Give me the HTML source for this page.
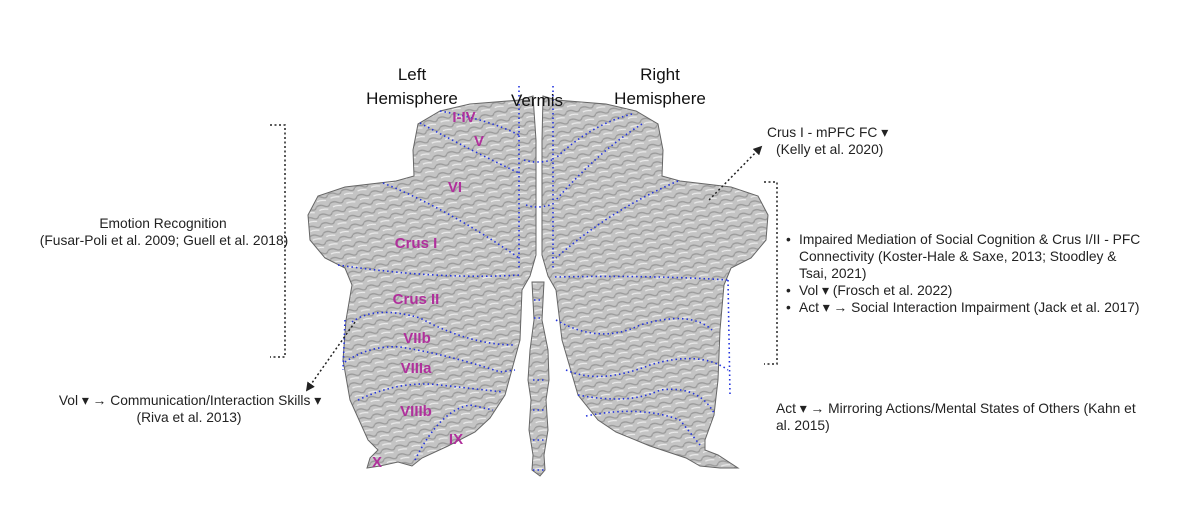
<!DOCTYPE html>
<html><head><meta charset="utf-8"><style>
body{margin:0;background:#fff;width:1199px;height:524px;overflow:hidden;font-family:"Liberation Sans",Arial,sans-serif}
svg{display:block}
.t{font-size:13.8px;fill:#222}
.r{font-size:13.8px;fill:#222}
.h{font-size:17px;fill:#111}
.m{font-size:15px;font-weight:bold;fill:#b0309c}
.b{fill:none;stroke:#2233dd;stroke-width:1.6;stroke-dasharray:1.5 3}
.k{fill:none;stroke:#222;stroke-width:1.5;stroke-dasharray:2 2.5}
</style></head><body>
<svg width="1199" height="524" viewBox="0 0 1199 524">
<defs>
<marker id="ar" viewBox="0 0 10 10" refX="8" refY="5" markerWidth="6" markerHeight="6" orient="auto"><path d="M0,0L10,5L0,10z" fill="#222"/></marker>
<pattern id="pt" width="14" height="9" patternUnits="userSpaceOnUse" patternTransform="rotate(-15)">
<rect width="14" height="9" fill="#c4c4c4"/><path d="M0,3 Q4,1 8,4 T14,3" stroke="#9a9a9a" stroke-width="1.3" fill="none"/><path d="M2,7 Q6,6 11,8" stroke="#eee" stroke-width="1.2" fill="none"/>
</pattern>
</defs>
<g fill="url(#pt)" stroke="#666" stroke-width="1">
<path d="M533,96 L520,100 L470,104 L440,111 L418,124 L413,150 L414,176 L396,181 L345,187 L318,196 L308,215 L310,240 L325,258 L345,268 L352,285 L346,320 L343,360 L350,400 L368,440 L378,450 L370,458 L367,468 L380,466 L398,462 L412,466 L422,458 L448,446 L475,432 L490,418 L505,395 L520,340 L522,290 L530,276 L536,255 L536,140 Z"/>
<path d="M543,96 L556,100 L606,104 L636,111 L658,124 L663,150 L662,176 L680,181 L731,187 L758,196 L768,215 L766,240 L751,258 L731,268 L724,285 L720,330 L718,380 L714,415 L705,440 L705,450 L718,455 L738,468 L720,468 L700,466 L686,458 L650,446 L616,432 L598,420 L578,395 L562,340 L556,290 L548,276 L542,255 L542,140 Z"/>
<path d="M532,282 L544,282 L542,320 L548,350 L549,380 L546,400 L548,430 L544,455 L545,470 L540,476 L532,470 L533,455 L529,430 L531,400 L528,380 L530,350 L534,320 Z"/>
</g>
<path class="b" d="M519,86 V270 M553,86 V270 M524,160 Q537,164 552,160 M526,205 Q537,209 550,205"/>
<path class="b" d="M440,111 Q490,120 519,135"/>
<path class="b" d="M420,123 Q470,150 519,173"/>
<path class="b" d="M383,183 Q450,210 519,258"/>
<path class="b" d="M338,265 Q440,280 520,275"/>
<path class="b" d="M352,322 Q375,305 420,318 Q470,345 515,345"/>
<path class="b" d="M345,362 Q370,345 400,347 Q450,355 500,372 L515,370"/>
<path class="b" d="M358,400 Q400,380 440,385 L503,392"/>
<path class="b" d="M415,460 Q440,410 470,405 L493,410"/>
<path class="b" d="M345,320 L343,370"/>
<path class="b" d="M632,114 Q590,125 556,158"/>
<path class="b" d="M642,124 Q600,150 556,200"/>
<path class="b" d="M678,181 Q610,210 556,258"/>
<path class="b" d="M555,277 Q650,275 728,280"/>
<path class="b" d="M556,320 Q600,345 640,325 Q690,310 712,330"/>
<path class="b" d="M566,370 Q600,385 650,365 Q700,350 728,370"/>
<path class="b" d="M578,395 Q630,405 660,390 Q700,385 715,415"/>
<path class="b" d="M586,416 Q640,405 680,420 L700,445"/>
<path class="b" d="M728,280 L730,395"/>
<path class="b" d="M534,300 H542 M534,318 H542 M533,380 H546 M533,410 H546 M533,440 H545 M533,470 H545"/>
<text class="h" x="412" y="80" text-anchor="middle">Left</text>
<text class="h" x="412" y="104" text-anchor="middle">Hemisphere</text>
<text class="h" x="537" y="106" text-anchor="middle">Vermis</text>
<text class="h" x="660" y="80" text-anchor="middle">Right</text>
<text class="h" x="660" y="104" text-anchor="middle">Hemisphere</text>
<text class="m" x="464" y="122" text-anchor="middle">I-IV</text>
<text class="m" x="479" y="146" text-anchor="middle">V</text>
<text class="m" x="455" y="192" text-anchor="middle">VI</text>
<text class="m" x="416" y="248" text-anchor="middle">Crus I</text>
<text class="m" x="416" y="304" text-anchor="middle">Crus II</text>
<text class="m" x="417" y="343" text-anchor="middle">VIIb</text>
<text class="m" x="416" y="373" text-anchor="middle">VIIIa</text>
<text class="m" x="416" y="416" text-anchor="middle">VIIIb</text>
<text class="m" x="456" y="444" text-anchor="middle">IX</text>
<text class="m" x="377" y="467" text-anchor="middle">X</text>
<path class="k" d="M270,125 H285 V357 H270"/>
<text class="t" x="163" y="228" text-anchor="middle">Emotion Recognition</text>
<text class="t" x="164" y="245" text-anchor="middle">(Fusar-Poli et al. 2009; Guell et al. 2018)</text>
<path class="k" d="M355,322 L307,390" marker-end="url(#ar)"/>
<text class="t" x="190" y="405" text-anchor="middle">Vol ▾ → Communication/Interaction Skills ▾</text>
<text class="t" x="189" y="422" text-anchor="middle">(Riva et al. 2013)</text>
<path class="k" d="M709,200 L761,147" marker-end="url(#ar)"/>
<text class="t" x="767" y="137">Crus I - mPFC FC ▾</text>
<text class="t" x="776" y="154">(Kelly et al. 2020)</text>
<path class="k" d="M764,182 H777 V364 H764"/>
<g class="r">
<text x="786" y="244">•</text><text x="799" y="244">Impaired Mediation of Social Cognition &amp; Crus I/II - PFC</text>
<text x="799" y="261">Connectivity (Koster-Hale &amp; Saxe, 2013; Stoodley &amp;</text>
<text x="799" y="278">Tsai, 2021)</text>
<text x="786" y="295">•</text><text x="799" y="295">Vol ▾ (Frosch et al. 2022)</text>
<text x="786" y="312">•</text><text x="799" y="312">Act ▾ → Social Interaction Impairment (Jack et al. 2017)</text>
<text x="776" y="413">Act ▾ → Mirroring Actions/Mental States of Others (Kahn et</text>
<text x="776" y="430">al. 2015)</text>
</g>
</svg>
</body></html>
